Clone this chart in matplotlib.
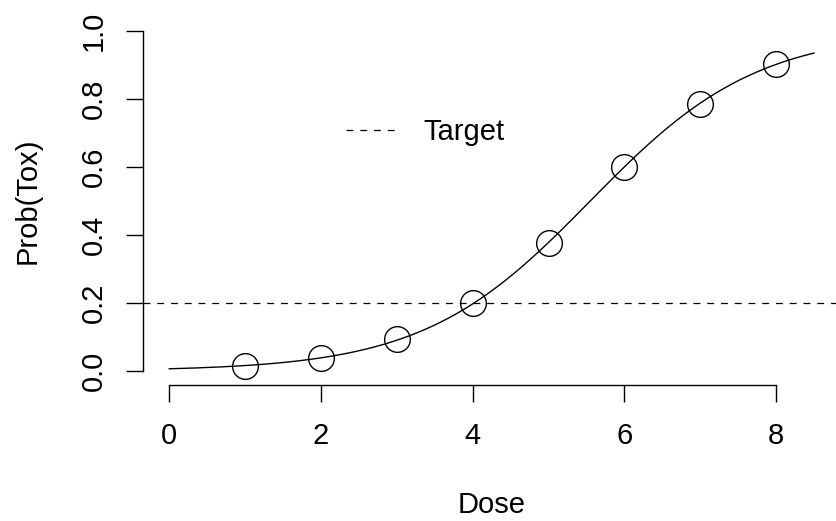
import numpy as np
import matplotlib
matplotlib.use("Agg")
import matplotlib.pyplot as plt
from matplotlib.lines import Line2D

plt.rcParams["font.family"] = ["Liberation Sans", "DejaVu Sans"]

# Observed toxicity probabilities at each dose level
dose = np.array([1, 2, 3, 4, 5, 6, 7, 8])
prob_tox = np.array([0.0156, 0.039, 0.093, 0.199, 0.377, 0.599, 0.786, 0.902])
target = 0.2

x_ticks = [0, 2, 4, 6, 8]
y_ticks = [0.0, 0.2, 0.4, 0.6, 0.8, 1.0]
y_tick_labels = ["0.0", "0.2", "0.4", "0.6", "0.8", "1.0"]

# Logistic dose-response fitted to the observed probabilities
logit = np.log(prob_tox / (1 - prob_tox))
slope, intercept = np.polyfit(dose, logit, 1)
grid = np.linspace(0, 8.5, 400)
curve = 1 / (1 + np.exp(-(intercept + slope * grid)))

FS = 21
W, H = 837, 521
fig = plt.figure(figsize=(W / 100, H / 100), dpi=100)
left, right, bottom, top = 143.5, 839.8, 384.6, 17.4
ax = fig.add_axes([left / W, 1 - bottom / H, (right - left) / W, (bottom - top) / H])
ax.set_xlim(-0.34, 8.84)
ax.set_ylim(-0.04, 1.04)

ax.plot(grid, curve, color="black", lw=1.0)
ax.plot(dose, prob_tox, "o", ms=18.5, mfc="none", mec="black", mew=1.0)
ax.axhline(target, color="black", lw=0.9, dashes=(5.5, 5.5))

for s in ("top", "right"):
    ax.spines[s].set_visible(False)
ax.spines["left"].set_bounds(0, 1)
ax.spines["bottom"].set_bounds(0, 8)
ax.spines["left"].set_linewidth(1.0)
ax.spines["bottom"].set_linewidth(1.0)

ax.set_xticks(x_ticks)
ax.set_xticklabels([str(v) for v in x_ticks])
ax.set_yticks(y_ticks)
ax.set_yticklabels(y_tick_labels, rotation=90, va="center")
ax.tick_params(axis="both", length=12, width=1.0, labelsize=FS, color="black")
ax.tick_params(axis="x", pad=15)
ax.tick_params(axis="y", pad=14)

fig.text(491.6 / W, 1 - 513 / H, "Dose", ha="center", va="baseline", fontsize=FS)
fig.text(27.5 / W, 1 - 201 / H, "Prob(Tox)", ha="center", va="center",
         rotation=90, fontsize=FS)

handle = Line2D([], [], color="black", lw=0.9, dashes=(5.5, 5.5))
ax.legend([handle], ["Target"], loc="center left",
          bbox_to_anchor=(346 / W, 1 - 132 / H), bbox_transform=fig.transFigure,
          frameon=False, borderpad=0, borderaxespad=0,
          handlelength=1.78, handletextpad=0.86, fontsize=FS)

fig.savefig("out.png", dpi=100)
